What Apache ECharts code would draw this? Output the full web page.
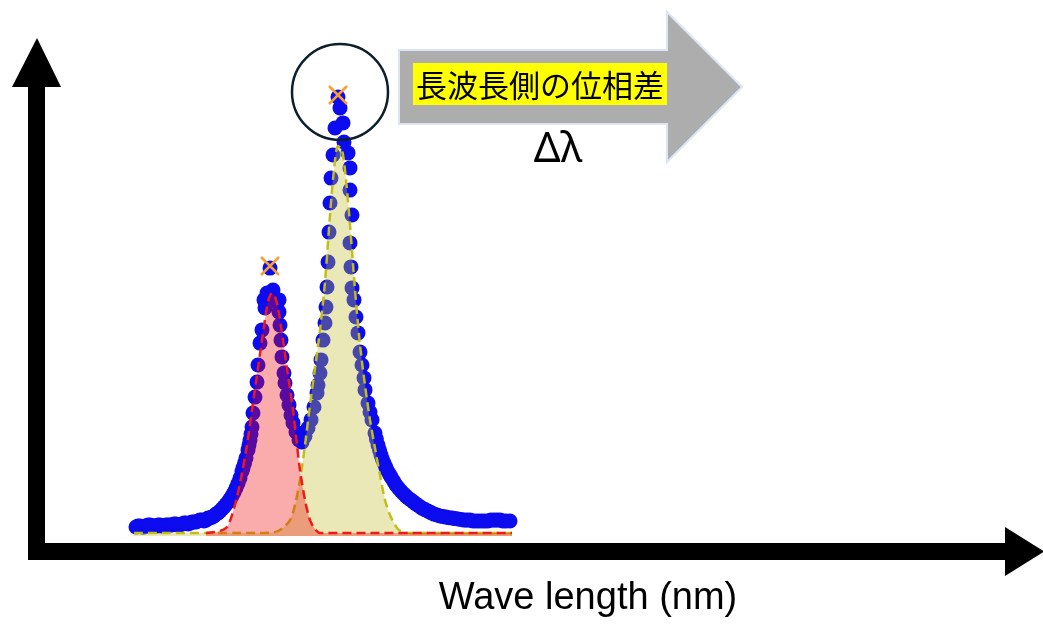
<!DOCTYPE html>
<html>
<head>
<meta charset="utf-8">
<script src="https://cdn.jsdelivr.net/npm/echarts@6/dist/echarts.min.js"></script>
<style>
html,body{margin:0;padding:0;background:#fff;}
#chart{width:1043px;height:624px;}
</style>
</head>
<body>
<div id="chart"></div>
<script>
// Measured spectrum (wavelength nm, intensity a.u.)
const measured = [
  [481,3.0],[482,3.3],[483,3.3],[484,3.0],[485,3.0],[486,3.3],[487,3.7],[488,3.7],[489,3.3],[490,3.3],
  [491,3.3],[492,3.7],[493,3.7],[494,3.3],[495,3.3],[496,3.7],[497,3.7],[498,3.7],[499,3.7],[500,4.0],
  [501,4.0],[502,3.7],[503,3.7],[504,4.0],[505,4.3],[506,4.3],[507,4.0],[508,4.3],[509,4.7],[510,4.7],
  [511,4.7],[512,5.0],[513,5.3],[514,5.3],[515,5.0],[516,5.3],[517,6.0],[518,6.0],[519,6.3],[520,6.7],
  [521,7.3],[522,7.7],[523,8.3],[524,9.0],[525,9.7],[526,10.5],[527,11.3],[528,12.3],[529,13.3],[530,14.5],
  [531,16.0],[532,17.5],[533,19.3],[534,21.5],[534.5,22.7],[535.3,24.3],[536,26.0],[537,28.7],[537.5,30.3],[538,32.0],
  [538.5,34.0],[539,36.3],[539.5,41.0],[540.5,46.3],[541.5,51.3],[542,57.0],[543,64.3],[544,68.7],[545,78.7],[545.5,76.0],
  [546.5,81.0],[548,89.3],[549.5,82.0],[551.5,78.0],[552.5,78.7],[552.5,74.7],[553,70.3],[553.5,65.3],[554,59.7],[555,54.3],
  [555.5,51.0],[556.5,47.0],[557.5,43.7],[558.5,40.3],[559.5,37.7],[561,34.7],[562.5,32.0],[564,31.3],[565.5,33.3],[567,36.0],
  [568.5,38.7],[570,43.0],[571.5,47.7],[572,50.3],[573,54.3],[573.5,58.7],[574.5,65.3],[575.5,71.0],[576,76.3],[576.5,83.0],
  [577,91.3],[577.5,101.3],[578,111.0],[578.5,119.3],[579.5,127.0],[580.5,136.0],[582,146.3],[583,142.7],[584.5,137.7],[585,131.3],
  [587,127.7],[588,122.7],[588,115.3],[589,107.0],[588,97.7],[588.5,89.7],[589,82.7],[590,78.7],[591,73.0],[592,67.7],
  [593,61.3],[594,57.0],[595,52.7],[595.5,48.7],[597,44.3],[598,41.3],[599,38.7],[600.5,34.3],[601.2,32.3],[602,30.3],
  [602.8,28.6],[603.5,27.0],[604.2,25.6],[605,24.3],[605.8,23.1],[606.5,22.0],[607.5,20.8],[608.5,19.7],[609.8,18.3],[611,17.0],
  [612.2,16.0],[613.5,15.0],[614.8,14.1],[616,13.3],[617.2,12.6],[618.5,12.0],[619.8,11.3],[621,10.7],[622.5,10.0],[624,9.3],
  [625.5,8.8],[627,8.3],[628.5,7.8],[630,7.3],[631.5,7.0],[633,6.7],[634.5,6.5],[636,6.3],[637.5,6.1],[639,6.0],
  [640.5,5.8],[642,5.7],[643.5,5.5],[645,5.3],[646.5,5.3],[648,5.3],[649.5,5.0],[651,5.0],[652.5,5.0],[654,5.0],
  [655.5,5.0],[657,5.0],[658.5,5.3],[660,5.3],[661.5,5.3],[663,5.3],[664.5,5.0],[666,5.0],[668,5.0]
];
// Fitted component 1 (short-wavelength peak)
const fitShort = [
  [516,1.0],[523,1.7],[526.5,3.0],[529,7.0],[531.5,13.0],[534,21.0],[536.5,30.3],[539,42.0],[541.5,53.7],[544,65.3],
  [546,74.3],[547.5,79.3],[549,81.0],[550.5,79.7],[552,76.0],[554.5,65.3],[557,53.7],[559.5,42.0],[561.5,30.3],[563,22.0],
  [565.5,12.0],[568,5.3],[570.5,2.3],[573,1.0],[669,1.0]
];
// Fitted component 2 (long-wavelength peak)
const fitLong = [
  [480,1.0],[543,1.0],[550.5,1.3],[554.5,2.7],[558,5.3],[560.5,10.3],[563,18.7],[565.5,30.3],[568,43.7],[570.5,56.0],
  [573,68.7],[575.5,84.7],[578,107.0],[580,122.0],[582,130.0],[584,128.7],[586,118.7],[588,103.7],[590.5,82.0],[593,63.7],
  [595.5,50.3],[598,38.7],[600.5,29.3],[603,20.3],[605.5,12.0],[608,7.0],[610.5,3.7],[613,1.7],[618,1.0],[669,1.0]
];
// Peak maxima
const peaks = [[548,90.0],[582,147.0]];
const highlightedPeak = [[582,147.0]];
const xLabel = 'Wave length (nm)';
const arrowLabel = '長波長側の位相差';
const deltaLabel = 'Δλ';

const chart = echarts.init(document.getElementById('chart'), null, {renderer:'canvas'});
chart.setOption({
  animation:false,
  backgroundColor:'#ffffff',
  grid:{left:134, right:531, top:95, bottom:88},
  xAxis:{type:'value', min:480, max:669, show:false},
  yAxis:{type:'value', min:0, max:147, show:false},
  series:[
    {
      type:'scatter', data:measured, symbol:'circle', symbolSize:15, z:1,
      itemStyle:{color:'#0c0cee', opacity:1}
    },
    {
      type:'line', data:fitLong, symbol:'none', smooth:0.3, z:2,
      lineStyle:{color:'#c2be14', width:2.5, type:[9,5]},
      areaStyle:{color:'rgba(190,188,40,0.34)', origin:'start', opacity:1}
    },
    {
      type:'line', data:fitShort, symbol:'none', smooth:0.3, z:3,
      lineStyle:{color:'#f01818', width:2.5, type:[9,5]},
      areaStyle:{color:'rgba(240,10,10,0.34)', origin:'start', opacity:1}
    },
    {
      type:'scatter', data:peaks, symbol:'path://M0,0L10,10M10,0L0,10', symbolSize:18, z:4,
      itemStyle:{color:'none', borderColor:'#f5a030', borderWidth:2.5, opacity:1}
    },
    {
      type:'scatter', data:highlightedPeak, symbol:'circle', symbolSize:96, symbolOffset:[2,-3], z:5,
      itemStyle:{color:'rgba(0,0,0,0)', borderColor:'#0b1f2c', borderWidth:2.5, opacity:1}
    }
  ],
  graphic:[
    // y axis arrow
    {type:'rect', shape:{x:28, y:80, width:17, height:480}, style:{fill:'#000'}},
    {type:'polygon', shape:{points:[[37,38],[61,87],[12,87]]}, style:{fill:'#000'}},
    // x axis arrow
    {type:'rect', shape:{x:28, y:543, width:985, height:17}, style:{fill:'#000'}},
    {type:'polygon', shape:{points:[[1005,527],[1044,551.5],[1005,576]]}, style:{fill:'#000'}},
    // gray block arrow
    {type:'polygon', shape:{points:[[399,50],[667,50],[667,12],[742,87],[667,162],[667,124],[399,124]]},
      style:{fill:'#adadad', stroke:'#dce6f2', lineWidth:2}},
    {type:'rect', shape:{x:413, y:63, width:254, height:42}, style:{fill:'#ffff00'}},
    {type:'text', style:{text:arrowLabel, x:540, y:85, align:'center', verticalAlign:'middle',
      font:'31px "Noto Sans CJK JP"', fill:'#000'}},
    {type:'text', style:{text:deltaLabel, x:558, y:150, align:'center', verticalAlign:'middle',
      font:'42px "Noto Sans"', fill:'#000'}},
    {type:'text', style:{text:xLabel, x:588, y:599, align:'center', verticalAlign:'middle',
      font:'38px "Liberation Sans"', fill:'#000'}}
  ]
});
</script>
</body>
</html>
